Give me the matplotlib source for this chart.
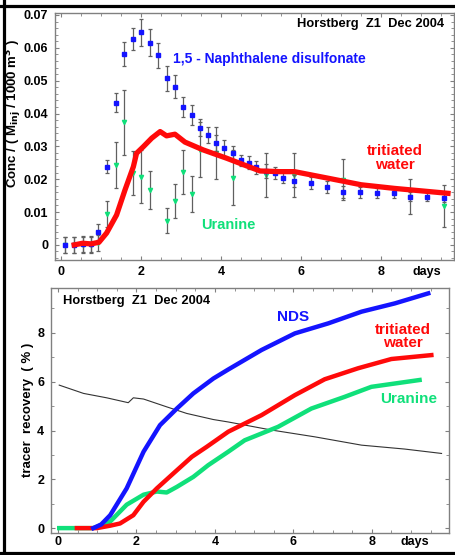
import matplotlib
matplotlib.use("Agg")
import matplotlib.pyplot as plt
from matplotlib.lines import Line2D
from matplotlib.ticker import MultipleLocator

plt.rcParams["font.family"] = ["Liberation Sans", "DejaVu Sans"]

# --- top panel: concentrations ---
t_nds = [0.1, 0.33, 0.54, 0.74, 0.93, 1.16, 1.37, 1.58, 1.79, 2.0, 2.23, 2.43,
         2.64, 2.85, 3.06, 3.27, 3.48, 3.67, 3.88, 4.08, 4.3, 4.5, 4.69, 4.88,
         5.12, 5.36, 5.56, 5.82, 6.26, 6.66, 7.05, 7.49, 7.91, 8.34, 8.73,
         9.15, 9.59]
c_nds = [0.0, 0.0, 0.0003, 0.0002, 0.0039, 0.0238, 0.0433, 0.0581, 0.0626,
         0.0647, 0.0616, 0.0578, 0.0507, 0.0482, 0.0419, 0.0396, 0.0357,
         0.0335, 0.031, 0.0294, 0.0279, 0.0257, 0.025, 0.0236, 0.0225, 0.022,
         0.0205, 0.0195, 0.0188, 0.0177, 0.016, 0.016, 0.0157, 0.0157, 0.0147,
         0.0147, 0.0144]
e_nds = [0.0025, 0.0025, 0.0025, 0.0025, 0.0025, 0.002, 0.0028, 0.0037,
         0.0034, 0.0041, 0.0042, 0.0038, 0.0037, 0.0035, 0.0031, 0.003,
         0.0026, 0.0024, 0.0025, 0.0024, 0.0022, 0.0018, 0.002, 0.002, 0.002,
         0.0018, 0.0018, 0.0018, 0.0019, 0.0018, 0.0018, 0.0016, 0.0015,
         0.0015, 0.0014, 0.0013, 0.0013]

t_ura = [0.1, 0.33, 0.54, 0.74, 0.93, 1.16, 1.37, 1.58, 1.79, 2.0, 2.23, 2.64,
         2.85, 3.06, 3.27, 3.48, 3.88, 4.3, 5.12, 5.82, 7.05, 8.73, 9.59]
c_ura = [0.0, 0.0, 0.0, 0.0, 0.0005, 0.0093, 0.0243, 0.0373, 0.022, 0.0208,
         0.0167, 0.0074, 0.0134, 0.0223, 0.0155, 0.029, 0.028, 0.0205, 0.0213,
         0.0213, 0.0198, 0.0147, 0.0118]
e_ura = [0.0025, 0.0025, 0.0025, 0.0025, 0.0025, 0.004, 0.0071, 0.0098,
         0.0067, 0.0081, 0.0057, 0.0038, 0.0051, 0.0067, 0.0054, 0.0084,
         0.0079, 0.0085, 0.0066, 0.0066, 0.0062, 0.0053, 0.0064]

t_htw = [0.33, 0.54, 0.75, 0.95, 1.14, 1.39, 1.6, 1.81, 1.89, 2.06, 2.27,
         2.48, 2.64, 2.85, 3.1, 3.56, 4.14, 4.59, 4.98, 5.48, 5.84, 6.68,
         7.51, 8.34, 9.68]
c_htw = [0.0, 0.0005, 0.0003, 0.0008, 0.0036, 0.0091, 0.0167, 0.0238, 0.0279,
         0.0299, 0.0325, 0.0345, 0.0332, 0.0337, 0.0313, 0.0289, 0.0264,
         0.0243, 0.0225, 0.0223, 0.0223, 0.0203, 0.0183, 0.0172, 0.0157]

# --- bottom panel: recovery ---
t_rec_nds = [0.9, 1.1, 1.33, 1.75, 2.18, 2.6, 3.03, 3.45, 3.96, 4.34, 5.19,
             6.04, 6.89, 7.74, 8.59, 9.44]
r_nds = [0.0, 0.15, 0.53, 1.63, 3.13, 4.22, 4.9, 5.52, 6.13, 6.5, 7.3, 7.98,
         8.39, 8.87, 9.21, 9.62]
t_rec_htw = [0.48, 0.99, 1.33, 1.58, 1.92, 2.18, 2.52, 2.94, 3.41, 3.79, 4.34,
             5.19, 6.04, 6.8, 7.65, 8.5, 9.52]
r_htw = [0.0, 0.0, 0.1, 0.19, 0.53, 1.08, 1.63, 2.24, 2.92, 3.33, 3.95, 4.63,
         5.45, 6.1, 6.55, 6.93, 7.09]
t_rec_ura = [0.03, 0.48, 0.9, 1.33, 1.75, 2.18, 2.52, 2.77, 3.03, 3.45, 3.83,
             4.34, 4.76, 5.61, 6.46, 7.31, 7.99, 9.22]
r_ura = [0.0, 0.0, 0.0, 0.27, 0.96, 1.37, 1.5, 1.46, 1.69, 2.1, 2.58, 3.13,
         3.6, 4.15, 4.9, 5.38, 5.79, 6.07]
t_flow = [0.03, 0.65, 1.24, 1.79, 1.92, 2.18, 2.77, 3.28, 3.96, 4.34, 5.44,
          6.55, 7.74, 8.84, 9.78]
flow = [5.86, 5.52, 5.34, 5.14, 5.34, 5.29, 4.97, 4.7, 4.45, 4.35, 4.02, 3.74,
        3.4, 3.24, 3.06]

x_ticks = [0, 2, 4, 6, 8]

BLUE = "#1414ff"
RED = "#ff0a0a"
GREEN = "#10e07a"
GRAY = "#808080"


def style_axes(ax, days_x, xpad):
    # "days" sits in the tick label row, without a tick mark of its own
    ax.set_xticks(x_ticks + [days_x])
    ax.set_xticklabels([str(v) for v in x_ticks] + ["days"])
    for sp in ax.spines.values():
        sp.set_color(GRAY)
        sp.set_linewidth(1.0)
    ax.tick_params(which="both", direction="in", top=True, right=True,
                   color=GRAY, labelsize=9)
    ax.tick_params(which="major", length=3)
    ax.tick_params(which="minor", length=2)
    ax.tick_params(axis="x", pad=xpad)
    ax.tick_params(axis="y", pad=5)
    last = ax.xaxis.get_major_ticks()[-1]
    last.tick1line.set_visible(False)
    last.tick2line.set_visible(False)
    for lab in ax.get_xticklabels() + ax.get_yticklabels():
        lab.set_fontweight("bold")


W, H = 456, 555
fig = plt.figure(figsize=(W / 100, H / 100), dpi=100)

# top panel
ax1 = fig.add_axes([55 / W, 1 - 260 / H, (454 - 55) / W, (260 - 13) / H])
ax1.errorbar(t_ura, c_ura, yerr=e_ura, fmt="v", color=GREEN, ms=3,
             ecolor="#606060", elinewidth=0.9, capsize=1.5, capthick=0.9,
             zorder=2)
ax1.errorbar(t_nds, c_nds, yerr=e_nds, fmt="s", color=BLUE, ms=2.3,
             ecolor="#606060", elinewidth=0.9, capsize=1.5, capthick=0.9,
             zorder=3)
ax1.plot(t_htw, c_htw, color=RED, lw=3.8, solid_joinstyle="round", zorder=4)
ax1.set_xlim(-0.15, 9.83)
ax1.set_ylim(-0.0046, 0.0706)
ax1.xaxis.set_minor_locator(MultipleLocator(0.5))
ax1.set_yticks([0, 0.01, 0.02, 0.03, 0.04, 0.05, 0.06, 0.07])
ax1.set_yticklabels(["0", "0.01", "0.02", "0.03", "0.04", "0.05", "0.06",
                     "0.07"])
ax1.yaxis.set_minor_locator(MultipleLocator(0.002))
style_axes(ax1, 9.15, 4)
fig.text(14 / W, 1 - 113 / H,
         "Conc / ( M$_\\mathbf{inj}$ / 1000 m$^\\mathbf{3}$ )",
         rotation=90, ha="center", va="center", fontsize=9.5,
         fontweight="bold")
ax1.text(0.975, 0.955, "Horstberg  Z1  Dec 2004", transform=ax1.transAxes,
         ha="right", va="center", fontsize=9.3, fontweight="bold")
ax1.text(2.8, 0.0567, "1,5 - Naphthalene disulfonate", color=BLUE,
         fontsize=10, fontweight="bold", ha="left", va="center")
ax1.text(8.35, 0.0265, "tritiated\nwater", color=RED, fontsize=11,
         fontweight="bold", ha="center", va="center", linespacing=0.95)
ax1.text(3.5, 0.0062, "Uranine", color=GREEN, fontsize=10.5,
         fontweight="bold", ha="left", va="center")

# bottom panel
ax2 = fig.add_axes([51 / W, 1 - 533 / H, (449 - 51) / W, (533 - 288) / H])
ax2.plot(t_flow, flow, color="#333333", lw=0.8, zorder=1)
ax2.plot(t_rec_ura, r_ura, color=GREEN, lw=3.2, zorder=2)
ax2.plot(t_rec_htw, r_htw, color=RED, lw=3.2, zorder=3)
ax2.plot(t_rec_nds, r_nds, color=BLUE, lw=3.2, zorder=4)
ax2.set_xlim(-0.18, 9.97)
ax2.set_ylim(-0.2, 9.84)
ax2.xaxis.set_minor_locator(MultipleLocator(0.5))
ax2.set_yticks([0, 2, 4, 6, 8])
ax2.yaxis.set_minor_locator(MultipleLocator(1))
style_axes(ax2, 9.1, 2.5)
fig.text(28 / W, 1 - 410 / H, "tracer  recovery  ( % )", rotation=90,
         ha="center", va="center", fontsize=9.5, fontweight="bold")
ax2.text(0.03, 0.945, "Horstberg  Z1  Dec 2004", transform=ax2.transAxes,
         ha="left", va="center", fontsize=9.3, fontweight="bold")
ax2.text(6.0, 8.65, "NDS", color=BLUE, fontsize=11, fontweight="bold",
         ha="center", va="center")
ax2.text(8.8, 7.85, "tritiated\nwater", color=RED, fontsize=11,
         fontweight="bold", ha="center", va="center", linespacing=0.95)
ax2.text(8.95, 5.3, "Uranine", color=GREEN, fontsize=11,
         fontweight="bold", ha="center", va="center")

# outer frame lines
for xs, ys in [([4.5 / W, 4.5 / W], [0, 1]),
               ([0, 1], [1 - 6 / H, 1 - 6 / H]),
               ([0, 1], [1 - 553 / H, 1 - 553 / H])]:
    fig.add_artist(Line2D(xs, ys, color="black", lw=2.3,
                          transform=fig.transFigure))

fig.savefig("out.png", dpi=100, facecolor="white")
